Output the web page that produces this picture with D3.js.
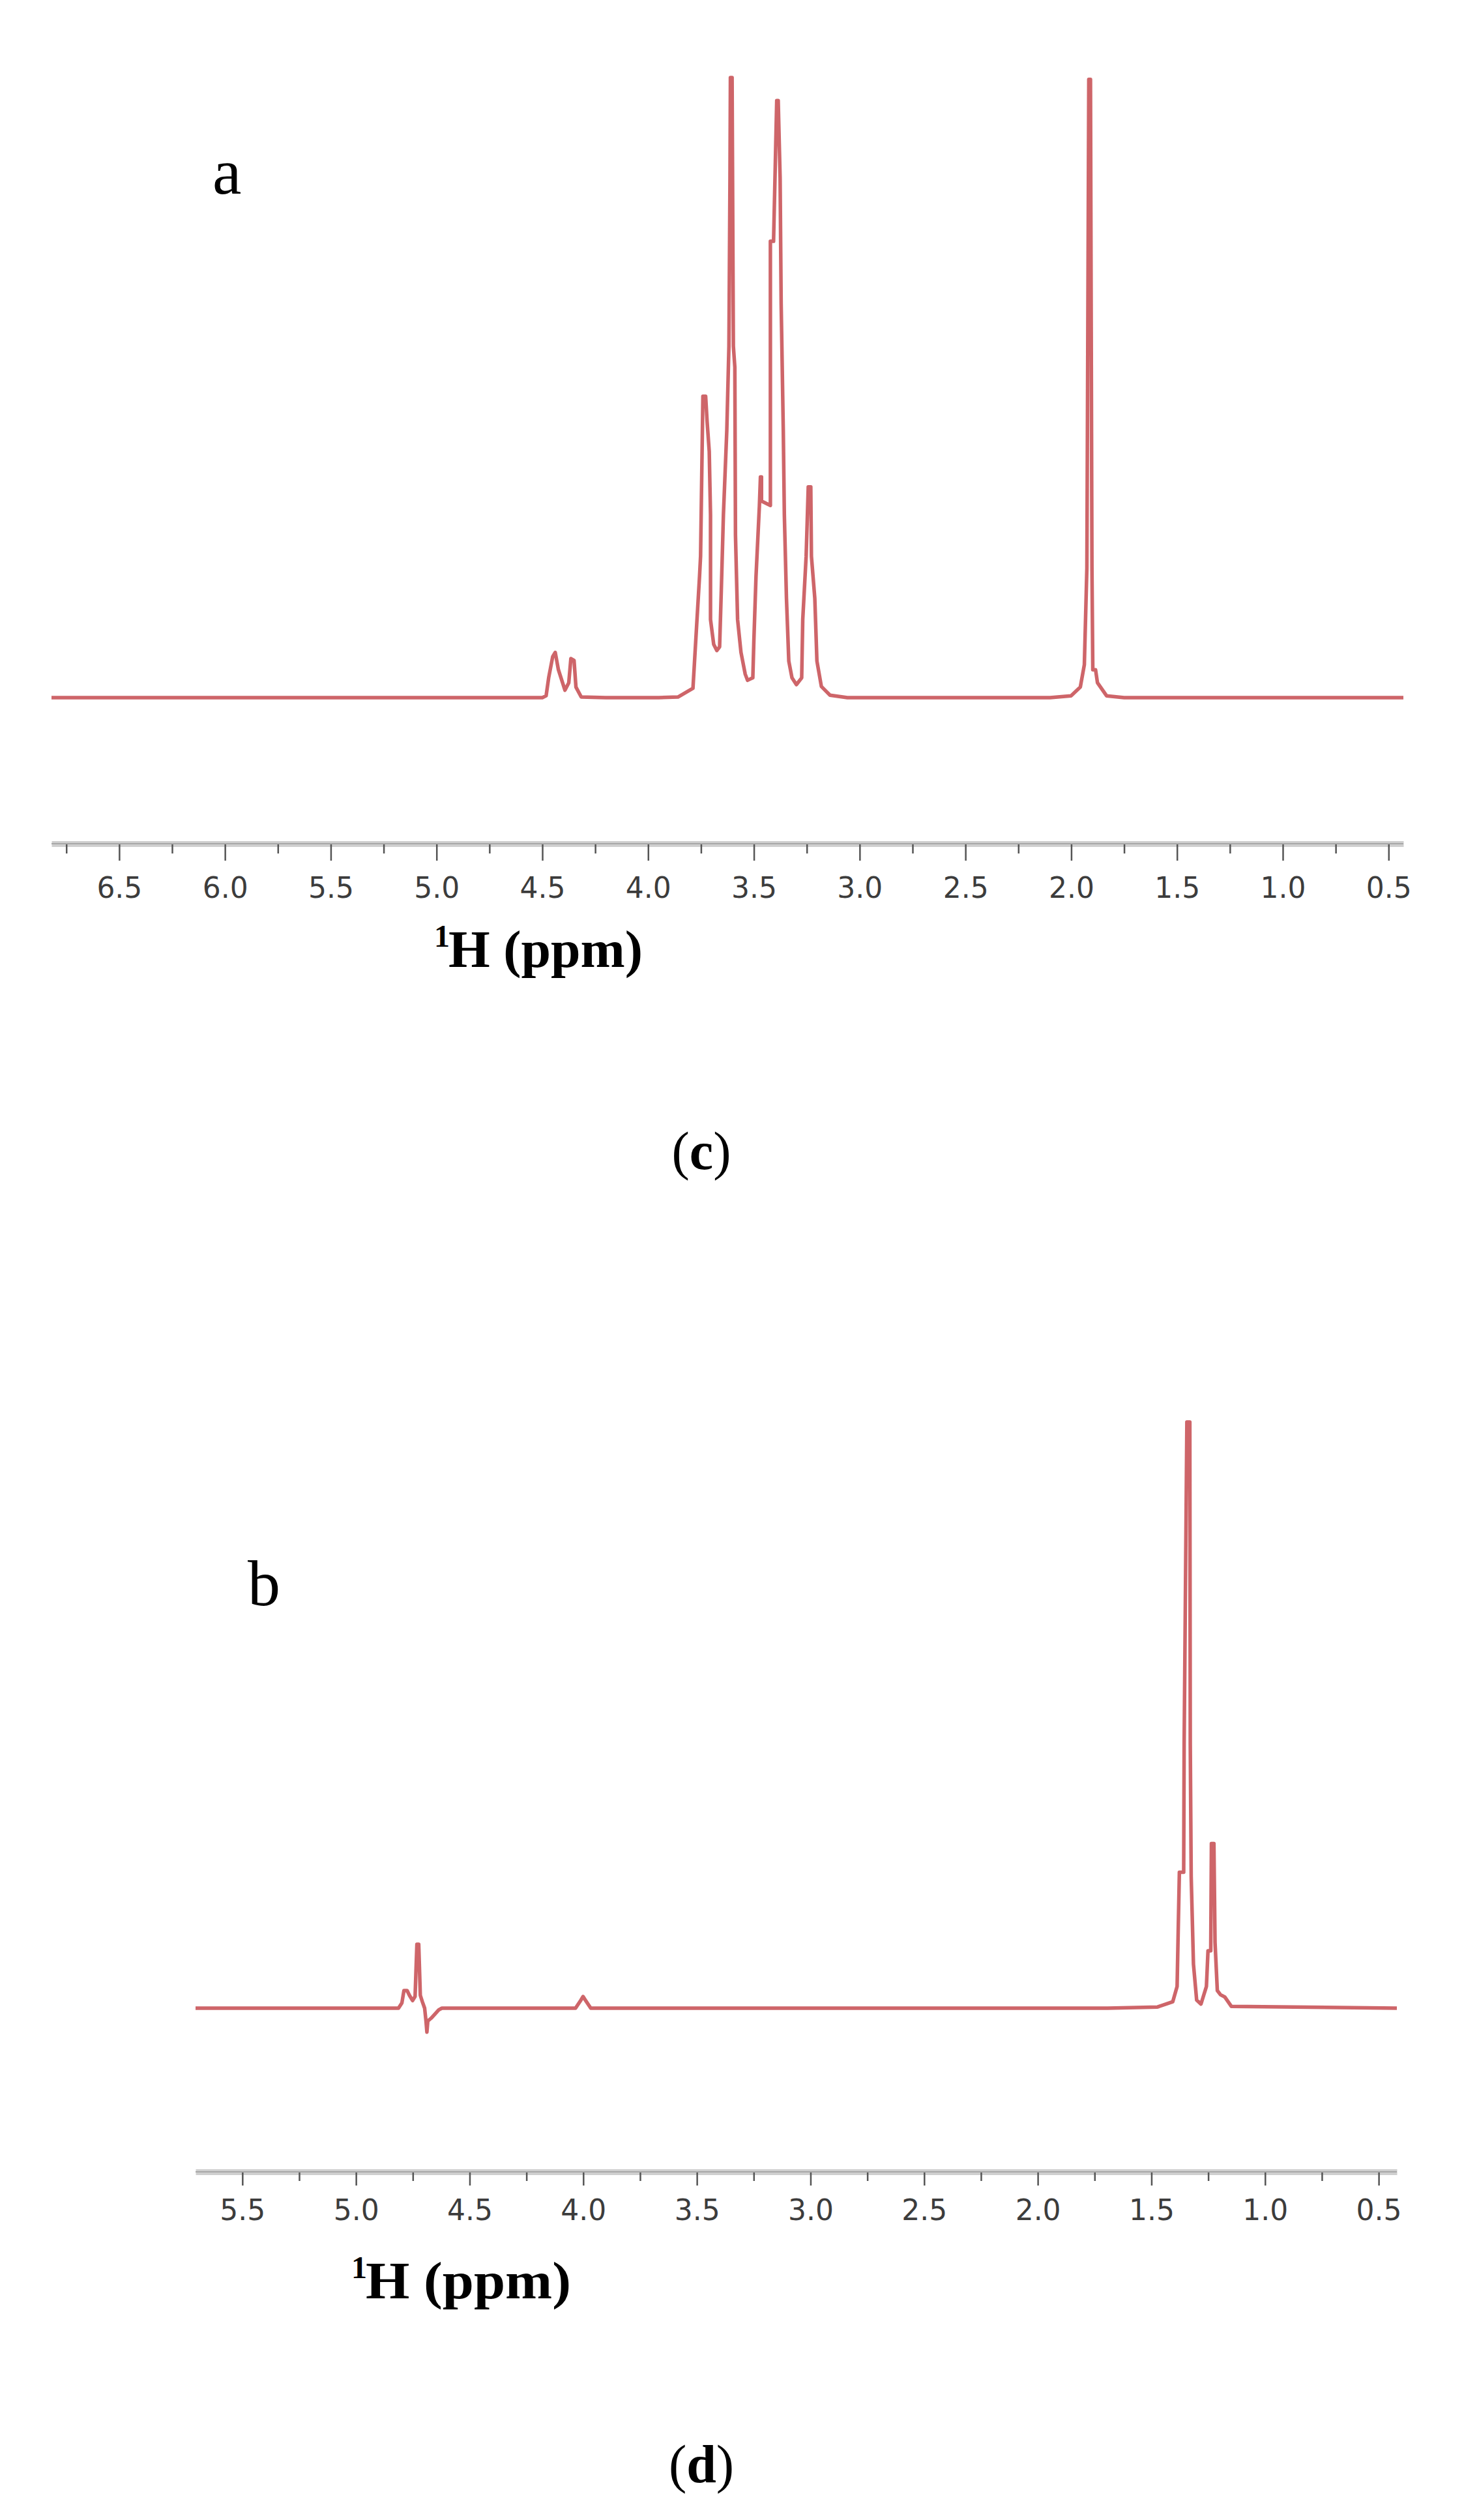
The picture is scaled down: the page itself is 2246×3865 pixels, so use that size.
<!DOCTYPE html>
<html>
<head>
<meta charset="utf-8">
<script src="https://cdn.jsdelivr.net/npm/d3@7"></script>
<style>
  body { margin: 0; background: #fff; }
  svg { display: block; }
</style>
</head>
<body>
<script>
// spectrum (a): [ppm, relative intensity]
const spectrumA = [
  [6.82, 0], [4.50, 0], [4.482, 0.3], [4.470, 3.2], [4.451, 6.6], [4.439, 7.3], [4.424, 4.5],
  [4.393, 1.2], [4.375, 2.4], [4.365, 6.3], [4.350, 6.0], [4.341, 1.7], [4.316, 0.1], [4.20, 0],
  [3.95, 0], [3.859, 0.1], [3.788, 1.5], [3.757, 19.5], [3.752, 22.8], [3.741, 48.6], [3.728, 48.6],
  [3.721, 44.5], [3.711, 39.7], [3.705, 29.5], [3.705, 12.6], [3.690, 8.6], [3.675, 7.6], [3.662, 8.2],
  [3.654, 17.3], [3.644, 29.5], [3.628, 43.1], [3.618, 56.7], [3.613, 83.8], [3.611, 100], [3.603, 100],
  [3.597, 56.7], [3.590, 53.3], [3.587, 26.2], [3.577, 12.6], [3.561, 7.3], [3.541, 3.8], [3.530, 2.8],
  [3.505, 3.2], [3.500, 9.3], [3.490, 19.5], [3.474, 30.9], [3.469, 35.6], [3.464, 35.6], [3.464, 31.7],
  [3.422, 31.0], [3.422, 73.6], [3.407, 73.6], [3.392, 96.3], [3.385, 96.3], [3.376, 83.8], [3.371, 63.4],
  [3.361, 43.1], [3.356, 29.5], [3.346, 16], [3.335, 5.9], [3.320, 3.2], [3.299, 2.1], [3.274, 3.2],
  [3.269, 12.6], [3.253, 22.8], [3.243, 34], [3.231, 34], [3.228, 22.8], [3.212, 16], [3.202, 5.9],
  [3.181, 1.8], [3.140, 0.4], [3.058, 0],
  [2.10, 0], [2.001, 0.3], [1.957, 1.7], [1.938, 5.3], [1.926, 20.9], [1.917, 99.7], [1.909, 99.7],
  [1.902, 20.9], [1.898, 4.5], [1.885, 4.5], [1.876, 2.4], [1.833, 0.3], [1.75, 0], [0.43, 0]
];

// spectrum (b)
const spectrumB = [
  [5.706, 0], [4.813, 0], [4.798, 0.9], [4.789, 3.0], [4.775, 3.0], [4.765, 2.2], [4.751, 1.3],
  [4.740, 2.0], [4.732, 10.9], [4.724, 10.9], [4.717, 2.2], [4.708, 1.1], [4.698, 0], [4.692, -2.2],
  [4.688, -4.1], [4.684, -2.2], [4.669, -1.7], [4.636, -0.3], [4.622, 0],
  [4.034, 0], [4.010, 1.4], [4.001, 2.0], [3.991, 1.4], [3.967, 0],
  [1.693, 0], [1.473, 0.2], [1.406, 1.1], [1.387, 3.7], [1.377, 23.2], [1.358, 23.2], [1.356, 45],
  [1.344, 100], [1.331, 100], [1.329, 45], [1.325, 22.5], [1.315, 7.5], [1.301, 1.4], [1.282, 0.7],
  [1.258, 3.7], [1.251, 9.8], [1.239, 9.8], [1.236, 28.1], [1.225, 28.1], [1.220, 11.2], [1.210, 3.0],
  [1.196, 2.3], [1.177, 1.9], [1.148, 0.3], [0.42, 0]
];

// tick values
const majorC = [6.5, 6.0, 5.5, 5.0, 4.5, 4.0, 3.5, 3.0, 2.5, 2.0, 1.5, 1.0, 0.5];
const minorC = [6.75, 6.25, 5.75, 5.25, 4.75, 4.25, 3.75, 3.25, 2.75, 2.25, 1.75, 1.25, 0.75];
const majorD = [5.5, 5.0, 4.5, 4.0, 3.5, 3.0, 2.5, 2.0, 1.5, 1.0, 0.5];
const minorD = [5.25, 4.75, 4.25, 3.75, 3.25, 2.75, 2.25, 1.75, 1.25, 0.75];

const width = 2246, height = 3865;
const lineColor = "#c03a3f";

const svg = d3.select("body").append("svg")
    .attr("width", width)
    .attr("height", height)
    .attr("viewBox", `0 0 ${width} ${height}`);

// scales
const xC = d3.scaleLinear().domain([6.82, 0.43]).range([79, 2153]);
const yA = d3.scaleLinear().domain([0, 100]).range([1070, 119]);
const xD = d3.scaleLinear().domain([5.706, 0.42]).range([300, 2143]);
const yB = d3.scaleLinear().domain([0, 100]).range([3080, 2181]);

function drawSpectrum(data, x, y) {
    svg.append("path")
        .datum(data)
        .attr("fill", "none")
        .attr("stroke", lineColor)
        .attr("stroke-width", 5.5)
        .attr("stroke-opacity", 0.78)
        .attr("stroke-linejoin", "round")
        .attr("d", d3.line().x(d => x(d[0])).y(d => y(d[1])));
}

function drawAxis(x, yPos, majors, minors, majorLen, minorLen, labelOffset) {
    const g = svg.append("g").attr("transform", `translate(0,${yPos})`);

    const major = g.append("g")
        .call(d3.axisBottom(x).tickValues(majors).tickSize(majorLen).tickSizeOuter(0)
            .tickFormat(d3.format(".1f")));
    major.select(".domain")
        .attr("stroke", "#cfcfcf")
        .attr("stroke-width", 9);
    major.selectAll(".tick line").attr("stroke", "#555").attr("stroke-width", 2.5);
    major.selectAll(".tick text")
        .attr("y", labelOffset)
        .attr("dy", 0)
        .style("font", "44px 'DejaVu Sans', sans-serif")
        .attr("fill", "#3c3c3c");

    const minor = g.append("g")
        .call(d3.axisBottom(x).tickValues(minors).tickSize(minorLen).tickSizeOuter(0).tickFormat(""));
    minor.select(".domain").remove();
    minor.selectAll(".tick line").attr("stroke", "#555").attr("stroke-width", 2.5);

    // darker centre of the axis band
    g.append("line")
        .attr("x1", x.range()[0]).attr("x2", x.range()[1])
        .attr("stroke", "#a8a8a8")
        .attr("stroke-width", 2);
}

function drawTitle(x0, x1, baseline) {
    svg.append("text")
        .attr("x", x0 - 22)
        .attr("y", baseline - 31)
        .style("font", "bold 48px 'Liberation Serif', serif")
        .text("1");
    svg.append("text")
        .attr("x", x0)
        .attr("y", baseline)
        .attr("textLength", x1 - x0)
        .attr("lengthAdjust", "spacingAndGlyphs")
        .style("font", "bold 80px 'Liberation Serif', serif")
        .text("H (ppm)");
}

// panel (c)
drawSpectrum(spectrumA, xC, yA);
drawAxis(xC, 1294, majorC, minorC, 26, 15, 83);
drawTitle(688, 986, 1483);

svg.append("text")
    .attr("x", 326).attr("y", 297)
    .style("font", "100px 'Liberation Serif', serif")
    .text("a");

svg.append("text")
    .attr("x", 1076).attr("y", 1793)
    .attr("text-anchor", "middle")
    .style("font", "82px 'Liberation Serif', serif")
    .html("(<tspan font-weight='bold'>c</tspan>)");

// panel (d)
drawSpectrum(spectrumB, xD, yB);
drawAxis(xD, 3331, majorD, minorD, 21, 14, 74);
drawTitle(561, 876, 3525);

svg.append("text")
    .attr("x", 380).attr("y", 2462)
    .style("font", "100px 'Liberation Serif', serif")
    .text("b");

svg.append("text")
    .attr("x", 1076).attr("y", 3807)
    .attr("text-anchor", "middle")
    .style("font", "82px 'Liberation Serif', serif")
    .html("(<tspan font-weight='bold'>d</tspan>)");
</script>
</body>
</html>
